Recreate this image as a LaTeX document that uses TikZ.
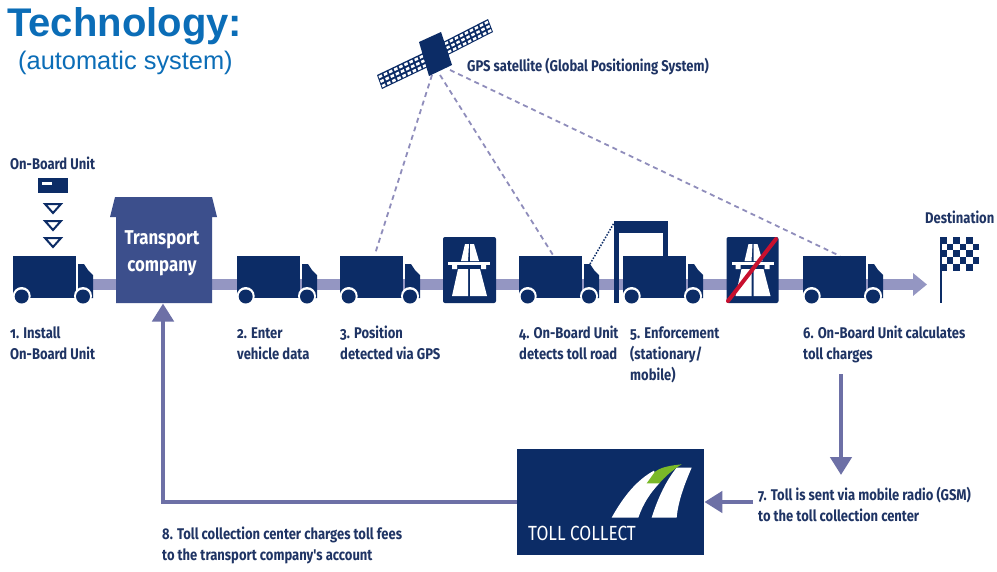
\documentclass[tikz,border=0pt]{standalone}
\usepackage{fontspec}
\setmainfont{Liberation Sans}
\newfontfamily\labfont[FakeStretch=0.84,Numbers=OldStyle]{Fira Sans}
\usetikzlibrary{arrows.meta,calc}
\definecolor{navy}{HTML}{0C2C66}
\definecolor{txt}{HTML}{1F3464}
\definecolor{road}{HTML}{9496C2}
\definecolor{tc}{HTML}{3C4F8C}
\definecolor{arr}{HTML}{6D70A6}
\definecolor{dash}{HTML}{8F8DBB}
\definecolor{blue1}{HTML}{0B6DB7}
\definecolor{red1}{HTML}{C8102E}
\definecolor{green1}{HTML}{7AB929}
\newcommand{\fs}{\rule{0pt}{15pt}}
\tikzset{
  x=1pt,y=-1pt,
  lab/.style={font=\labfont\bfseries\fontsize{15.5}{21}\selectfont,text=txt,align=left,anchor=north west,inner sep=0pt},
  flow/.style={draw=arr,line width=4.5pt,-{Triangle[length=18pt,width=21pt]}},
  sat/.style={draw=dash,line width=1.8pt,dash pattern=on 5pt off 4pt},
  truck/.pic={
    \fill[navy] (0,0) rectangle (63,42);
    \fill[navy] (65,8) -- (71,8) -- (75,14) -- (80,19) -- (80,42) -- (65,42) -- cycle;
    \fill[white] (8.7,40) circle (9) (70,40) circle (9);
    \fill[navy] (8.7,40.5) circle (7) (70,40.5) circle (7);
  },
  motorway/.pic={
    \fill[navy,rounded corners=2pt] (0,0) rectangle (#1,66);
    \fill[white] (18,24) -- (22,7) -- (26,7) -- (25,24) -- cycle;
    \fill[white] (27,24) -- (27,7) -- (31,7) -- (36,24) -- cycle;
    \fill[white] (5,25) rectangle (47,28);
    \fill[white] (9,28) rectangle (14,32) (38,28) rectangle (43,32);
    \fill[white] (9,59) -- (15,32) -- (25,32) -- (25,59) -- cycle;
    \fill[white] (27,32) -- (37,32) -- (44,59) -- (27,59) -- cycle;
  }
}
\newcommand{\panel}[6]{%
  \fill[navy] (#1,#2) -- (#3,#4) -- ({#3+#5-#1},{#4+#6-#2}) -- (#5,#6) -- cycle;
  \foreach \i in {0,...,8}{\foreach \j in {0,1,2}{
    \pgfmathsetmacro{\ua}{(\i+.18)/9}\pgfmathsetmacro{\ub}{(\i+.82)/9}
    \pgfmathsetmacro{\va}{(\j+.3)/3.1}\pgfmathsetmacro{\vb}{(\j+.85)/3.1}
    \fill[white] ({#1+\ua*(#3-#1)+\va*(#5-#1)},{#2+\ua*(#4-#2)+\va*(#6-#2)})
      -- ({#1+\ub*(#3-#1)+\va*(#5-#1)},{#2+\ub*(#4-#2)+\va*(#6-#2)})
      -- ({#1+\ub*(#3-#1)+\vb*(#5-#1)},{#2+\ub*(#4-#2)+\vb*(#6-#2)})
      -- ({#1+\ua*(#3-#1)+\vb*(#5-#1)},{#2+\ua*(#4-#2)+\vb*(#6-#2)}) -- cycle;
  }}
}
\begin{document}
\begin{tikzpicture}
\useasboundingbox (0,0) rectangle (997,571);
\fill[white] (0,0) rectangle (997,571);
% title
\node[anchor=base west,inner sep=0pt,text=blue1,font=\bfseries\fontsize{40}{40}\selectfont] (title) at (7,36) {Technology:};
\node[anchor=base west,inner sep=0pt,text=blue1,font=\fontsize{25.4}{25.4}\selectfont] (sub) at (18,69) {(automatic system)};
% road
\coordinate (roadS) at (90,284.5);
\coordinate (roadE) at (927,284.5);
\draw[road,line width=11pt,-{Triangle[length=14pt,width=22pt]}] (roadS) -- (roadE);
% satellite links
\coordinate (s1) at (432,75); \coordinate (s2) at (440,75); \coordinate (s3) at (450,70);
\coordinate (t3) at (375,254); \coordinate (t4) at (553,255); \coordinate (t6) at (840,256);
\draw[sat] (s1) -- (t3);
\draw[sat] (s2) -- (t4);
\draw[sat] (s3) -- (t6);
\coordinate (d1) at (590,264); \coordinate (d2) at (614,223);
\draw[navy,line width=1.5pt,dash pattern=on 1.5pt off 1.5pt] (d1) -- (d2);
% satellite
\panel{377}{75}{423}{53}{382}{89}
\panel{443}{42}{488}{19}{448}{55}
\fill[navy] (419,42) -- (441,32) -- (452,65) -- (429,76) -- cycle;
\node[lab,anchor=base west] (gps) at (467,71) {GPS satellite (Global Positioning System)};
% trucks
\foreach \x in {13,237,340,519,623,803}{ \pic at (\x,256) {truck}; }
% gantry
\fill[navy] (614,221) rectangle (668,233);
\fill[navy] (614,221) rectangle (619,303);
\fill[navy] (663,221) rectangle (668,256);
% motorway signs
\pic at (443,237) {motorway=53};
\pic at (726.5,237) {motorway=52};
\draw[red1,line width=4pt,line cap=round] (728,301) -- (776,239);
% flag
\fill[navy] (939.5,237) rectangle (942,303);
\foreach \c in {0,...,5}{\foreach \r in {0,...,4}{
  \pgfmathparse{int(mod(\c+\r,2))}
  \ifnum\pgfmathresult=0 \fill[navy] ({940+\c*6.5},{237+\r*6.7}) rectangle ++(6.5,6.7);\fi
}}
% OBU
\fill[navy] (38,178) rectangle (68,193);
\fill[white] (42,182) rectangle (52,184.5);
\foreach \y in {203,220,237}{\draw[navy,line width=2pt] (45,\y+1) -- (61,\y+1) -- (53,\y+10) -- cycle;}
% transport company
\fill[tc] (116,217) -- (110,217) -- (115,197) -- (212,197) -- (217,217) -- (212,217) -- (212,303) -- (116,303) -- cycle;
\node[inner sep=0pt,minimum width=96pt,minimum height=60pt,text=white,align=center,font=\labfont\bfseries\fontsize{20}{27}\selectfont] (tc) at (162,253) {Transport\\company};
\coordinate (tcb) at (163,303.5);
% toll collect
\node[fill=navy,minimum width=187pt,minimum height=106pt,inner sep=0pt,anchor=north west] (toll) at (517,449) {};
\begin{scope}[shift={(500,430)},x=0.3333pt,y=-0.3333pt]
  \fill[white] (335,263) .. controls (370,200) and (410,150) .. (462,122) -- (478,160) .. controls (450,190) and (430,220) .. (415,263) -- cycle;
  \fill[white] (455,263) .. controls (475,200) and (500,150) .. (530,113) -- (575,113) .. controls (555,160) and (535,210) .. (530,263) -- cycle;
  \fill[green1] (440,160) -- (465,125) .. controls (480,115) and (495,108) .. (545,103) .. controls (515,122) and (495,140) .. (478,160) -- cycle;
\end{scope}
\node[anchor=base west,inner sep=0pt,text=white,font=\labfont\fontsize{20.5}{20.5}\selectfont] (tolltxt) at (528,540) {TOLL COLLECT};
% process arrows
\coordinate (a6) at (841,374); \coordinate (a6e) at (841,475);
\coordinate (a7) at (753,502);
\draw[flow] (a6) -- (a6e);
\draw[flow] (a7) -- (toll.east |- a7);
\draw[flow] (toll.west |- a7) -| (tcb);
% labels
\node[lab] (obu) at (10,154) {\fs On-Board Unit};
\node[lab] (dest) at (925,208) {\fs Destination};
\node[lab] (l1) at (10,323) {\fs 1. Install\\On-Board Unit};
\node[lab] (l2) at (237,323) {\fs 2. Enter\\vehicle data};
\node[lab] (l3) at (340,323) {\fs 3. Position\\detected via GPS};
\node[lab] (l4) at (519,323) {\fs 4. On-Board Unit\\detects toll road};
\node[lab] (l5) at (630,323) {\fs 5. Enforcement\\(stationary/\\mobile)};
\node[lab] (l6) at (803,323) {\fs 6. On-Board Unit calculates\\toll charges};
\node[lab] (l7) at (758,485) {\fs 7. Toll is sent via mobile radio (GSM)\\to the toll collection center};
\node[lab] (l8) at (162,524) {\fs 8. Toll collection center charges toll fees\\to the transport company's account};
\end{tikzpicture}
\end{document}
